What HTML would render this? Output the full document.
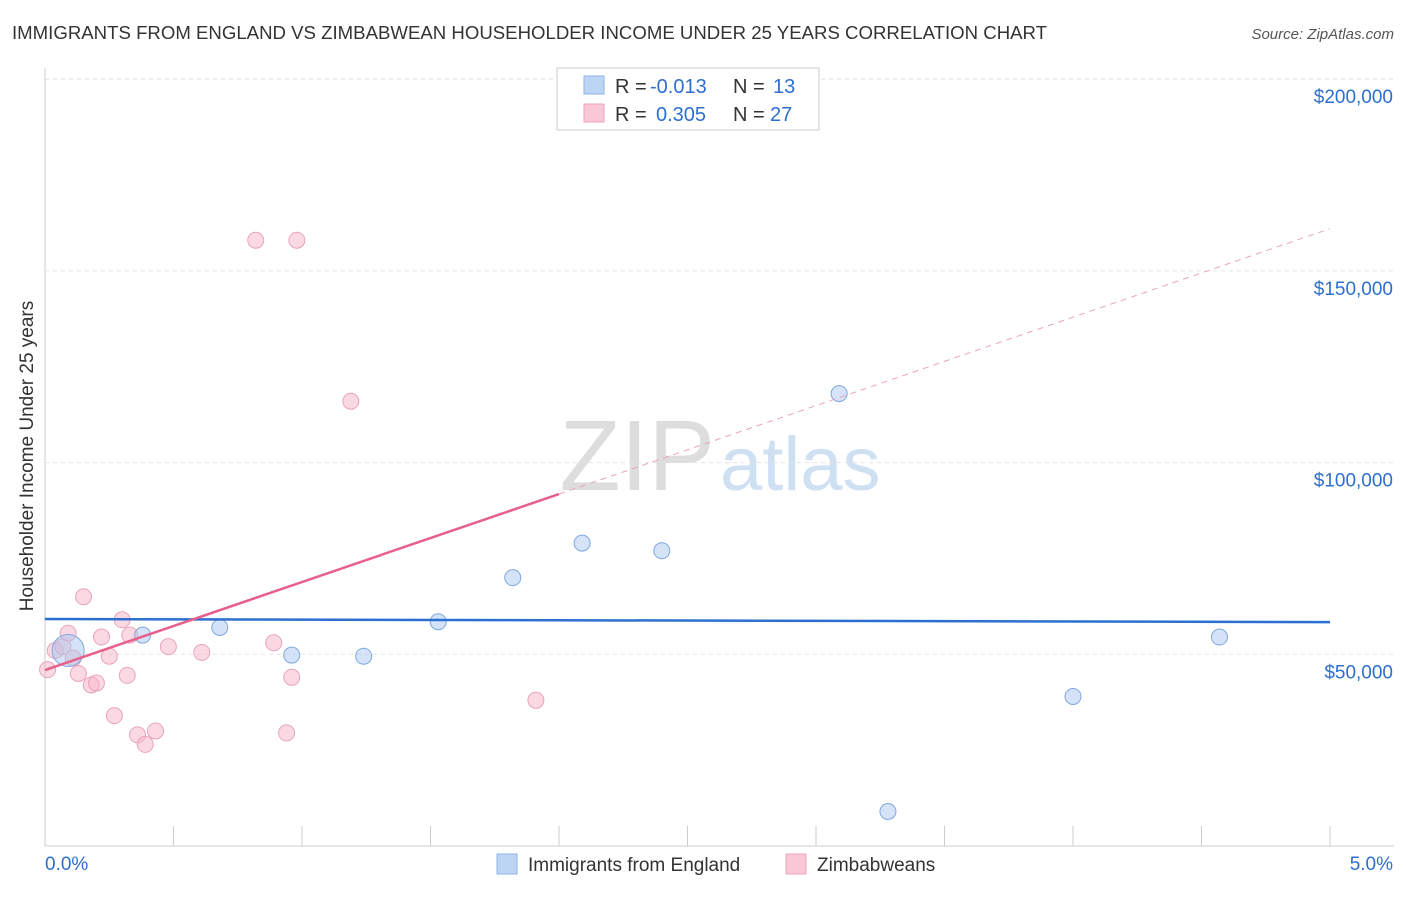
<!DOCTYPE html>
<html><head><meta charset="utf-8"><style>
body{margin:0;background:#fff;font-family:"Liberation Sans",sans-serif;}
svg text{font-family:"Liberation Sans",sans-serif;}
</style></head><body>
<svg id="chart" width="1406" height="892">
<text x="12" y="39" font-size="18.6" fill="#333" textLength="1035">IMMIGRANTS FROM ENGLAND VS ZIMBABWEAN HOUSEHOLDER INCOME UNDER 25 YEARS CORRELATION CHART</text>
<text x="1394" y="39" font-size="15" fill="#555" font-style="italic" text-anchor="end">Source: ZipAtlas.com</text>
<text x="33" y="456" font-size="19" fill="#333" text-anchor="middle" transform="rotate(-90 33 456)">Householder Income Under 25 years</text>
<text x="715" y="490" font-size="100" fill="#ddd" font-family="Liberation Serif" text-anchor="end">ZIP</text>
<text x="720" y="490" font-size="76" fill="#cfe0f3">atlas</text>
<g id="grid"></g><g id="marks"></g>
<g>
<rect x="557" y="68" width="262" height="62" fill="#fff" stroke="#ccc"/>
<rect x="584" y="76" width="20" height="18" fill="#bcd5f5" stroke="#8fb3e3"/>
<rect x="584" y="104" width="20" height="18" fill="#f9c7d6" stroke="#eba4bb"/>
<text x="615" y="93" font-size="20" fill="#333">R =</text>
<text x="650" y="93" font-size="20" fill="#2d6fd0">-0.013</text>
<text x="733" y="93" font-size="20" fill="#333">N =</text>
<text x="773" y="93" font-size="20" fill="#2d6fd0">13</text>
<text x="615" y="121" font-size="20" fill="#333">R =</text>
<text x="656" y="121" font-size="20" fill="#2d6fd0">0.305</text>
<text x="733" y="121" font-size="20" fill="#333">N =</text>
<text x="770" y="121" font-size="20" fill="#2d6fd0">27</text>
</g>
<g>
<rect x="497" y="854" width="20" height="20" fill="#bcd5f5" stroke="#8fb3e3"/>
<text x="528" y="871" font-size="19" fill="#333">Immigrants from England</text>
<rect x="786" y="854" width="20" height="20" fill="#f9c7d6" stroke="#eba4bb"/>
<text x="817" y="871" font-size="19" fill="#333">Zimbabweans</text>
</g>
</svg>
<script>
const yTicks=[50000,100000,150000,200000];
const yTickLabels=["$50,000","$100,000","$150,000","$200,000"];
const xTicks=[0,0.5,1,1.5,2,2.5,3,3.5,4,4.5,5];
const englandX=[0.09,0.38,0.68,0.96,1.24,1.53,1.82,2.09,2.40,3.09,3.28,4.00,4.57];
const englandY=[51000,55000,57000,49800,49500,58500,70000,79000,77000,118000,9000,39000,54500];
const zimX=[0.01,0.04,0.07,0.09,0.11,0.13,0.15,0.18,0.20,0.22,0.25,0.27,0.30,0.32,0.33,0.36,0.39,0.43,0.48,0.61,0.82,0.89,0.94,0.96,0.98,1.19,1.91];
const zimY=[46000,51000,52000,55500,49000,45000,65000,42000,42500,54500,49500,34000,59000,44500,55000,29000,26500,30000,52000,50500,158000,53000,29500,44000,158000,116000,38000];
const englandTrend=[59200,58400];
const zimTrendSolid=[45900,91800];
const zimTrendDash=[91800,161000];
const NS="http://www.w3.org/2000/svg";
const X=v=>45+v/5*1285, Y=v=>846-v/50000*191.7;
function mk(tag,attrs,parent){const e=document.createElementNS(NS,tag);for(const k in attrs)e.setAttribute(k,attrs[k]);parent.appendChild(e);return e;}
const grid=document.getElementById('grid'),marks=document.getElementById('marks');
let l=mk('line',{x1:45,y1:68,x2:45,y2:846,stroke:'#ccc'},grid);


l=mk('line',{x1:45,y1:846,x2:1394,y2:846,stroke:'#ccc'},grid);


yTicks.forEach((t,i)=>{
 let g=mk('line',{x1:45,y1:Y(t),x2:1394,y2:Y(t),stroke:'#e3e3e3','stroke-dasharray':'4,4'},grid);
 
 
 let tx=mk('text',{x:1393,y:Y(t)+24,'font-size':19,fill:'#2d6fd0','text-anchor':'end'},grid);
 tx.textContent=yTickLabels[i];
 
 
});
mk('line',{x1:45,y1:79,x2:1394,y2:79,stroke:'#e3e3e3','stroke-dasharray':'4,4'},grid);
xTicks.forEach(t=>{
 if(t===0)return;
 let tk=mk('line',{x1:X(t),y1:826,x2:X(t),y2:846,stroke:'#ccc'},grid);
 
 
});
let xl=mk('text',{x:45,y:870,'font-size':19,fill:'#2d6fd0'},grid);xl.textContent='0.0%';


xl=mk('text',{x:1393,y:870,'font-size':19,fill:'#2d6fd0','text-anchor':'end'},grid);xl.textContent='5.0%';


zimX.forEach((x,i)=>{
 let c=mk('circle',{cx:X(x),cy:Y(zimY[i]),r:8,fill:'rgba(246,180,200,0.5)',stroke:'#eaa3bb','stroke-width':1},marks);
 
 
});
englandX.forEach((x,i)=>{
 let c=mk('circle',{cx:X(x),cy:Y(englandY[i]),r:i===0?16:8,fill:'rgba(170,200,240,0.5)',stroke:'#7fa8e0','stroke-width':1},marks);
 
 
});
let t1=mk('line',{x1:X(0),y1:Y(englandTrend[0]),x2:X(5),y2:Y(englandTrend[1]),stroke:'#2d6fd0','stroke-width':2.5},marks);


let t2=mk('line',{x1:X(0),y1:Y(zimTrendSolid[0]),x2:X(2),y2:Y(zimTrendSolid[1]),stroke:'#e8608a','stroke-width':2.5},marks);


let t3=mk('line',{x1:X(2),y1:Y(zimTrendDash[0]),x2:X(5),y2:Y(zimTrendDash[1]),stroke:'#eaa3bb','stroke-width':1,'stroke-dasharray':'6,5'},marks);


</script>
</body></html>
